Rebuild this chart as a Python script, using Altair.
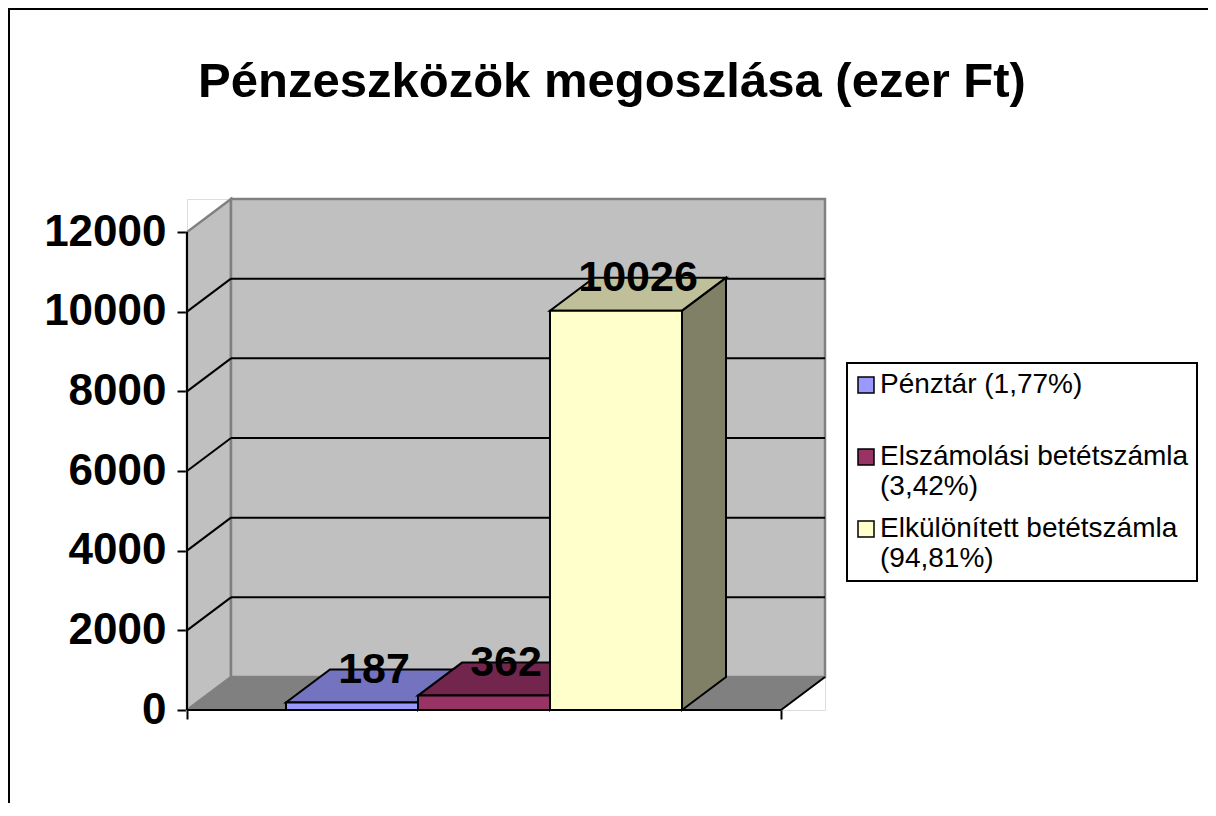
import altair as alt
import pandas as pd

# ---------------- data ----------------
categories = [
    "Pénztár (1,77%)\n ",
    "Elszámolási betétszámla\n(3,42%)",
    "Elkülönített betétszámla\n(94,81%)",
]
values = [187, 362, 10026]
front_colors = ["#9999FF", "#993366", "#FFFFCC"]
top_colors = ["#7373BF", "#73264D", "#BFBF99"]
side_colors = ["#5C5C99", "#4D1A33", "#808066"]
y_ticks = [0, 2000, 4000, 6000, 8000, 10000, 12000]
title_text = "Pénzeszközök megoszlása (ezer Ft)"

# ---------------- geometry (3D look) ----------------
FONT = "Liberation Sans, Arial, sans-serif"
W_FRONT, H_FRONT = 594, 478          # front plane in px
DEPTH_PX_X, DEPTH_PX_Y = 44, 33      # 3D depth offset in px
Y_MAX = y_ticks[-1]
DX = DEPTH_PX_X / W_FRONT            # depth in x units (front plane = 1)
DY = DEPTH_PX_Y / (H_FRONT / Y_MAX)  # depth in value units
W, H = W_FRONT + DEPTH_PX_X, H_FRONT + DEPTH_PX_Y

n = len(values)
bw = 1.0 / (n + 1.5)                 # gap width 150 %
start = 0.75 * bw

XS = alt.Scale(domain=[0, 1 + DX], nice=False, zero=False)
YS = alt.Scale(domain=[0, Y_MAX + DY], nice=False, zero=False)
x_axis = alt.Axis(values=[0, 1], labels=False, tickSize=9, tickWidth=2,
                  tickColor="black", domain=False, grid=False, title=None)
y_axis = alt.Axis(values=y_ticks, format="d", labelFont=FONT, labelFontSize=44,
                  labelFontWeight="bold", labelColor="black", labelPadding=11,
                  tickSize=10, tickWidth=2, tickColor="black", domain=False,
                  grid=False, title=None)


def X(f):
    return alt.X(f, type="quantitative", scale=XS, axis=x_axis, title=None)


def Y(f):
    return alt.Y(f, type="quantitative", scale=YS, axis=y_axis, title=None, stack=None)


# walls
floor = pd.DataFrame({"x": [0, DX, 1, 1 + DX], "y": [0, 0, 0, DY], "y2": [0, DY, DY, DY]})
left_wall = pd.DataFrame({"x": [0, DX], "y": [0, DY], "y2": [Y_MAX, Y_MAX + DY]})
back_wall = pd.DataFrame({"x": [DX], "x2": [1 + DX], "y": [DY], "y2": [Y_MAX + DY]})

grid_rows = []
for v in y_ticks[1:-1]:
    grid_rows.append({"x": DX, "x2": 1 + DX, "y": v + DY, "y2": v + DY})
    grid_rows.append({"x": 0, "x2": DX, "y": v, "y2": v + DY})
grid = pd.DataFrame(grid_rows)

front_lines = pd.DataFrame({
    "x": [0, 0, 1], "x2": [0, 1, 1 + DX], "y": [0, 0, 0], "y2": [Y_MAX, 0, DY]})

front_rows, top_rows, side_rows, label_rows = [], [], [], []
for i, (c, v) in enumerate(zip(categories, values)):
    x0 = start + i * bw
    x1 = x0 + bw
    front_rows.append({"cat": c, "x": x0, "x2": x1, "y": 0, "y2": v})
    for x, ya, yb in [(x0, v, v), (x0 + DX, v, v + DY), (x1, v, v + DY), (x1 + DX, v + DY, v + DY)]:
        top_rows.append({"bar": i, "x": x, "y": ya, "y2": yb, "fc": top_colors[i]})
    for x, ya, yb in [(x1, 0, v), (x1 + DX, DY, v + DY)]:
        side_rows.append({"bar": i, "x": x, "y": ya, "y2": yb, "fc": side_colors[i]})
    label_rows.append({"x": (x0 + x1) / 2 + DX / 2, "y": v + DY, "v": v})

front = pd.DataFrame(front_rows)
tops = pd.DataFrame(top_rows)
sides = pd.DataFrame(side_rows)
labels = pd.DataFrame(label_rows)

# ---------------- layers ----------------
floor_l = alt.Chart(floor).mark_area(orient="vertical", color="#808080", opacity=1).encode(
    x=X("x"), y=Y("y"), y2=alt.Y2("y2"))
left_l = alt.Chart(left_wall).mark_area(orient="vertical", fill="#C0C0C0", stroke="#808080",
                                        strokeWidth=2.5, opacity=1).encode(
    x=X("x"), y=Y("y"), y2=alt.Y2("y2"))
back_l = alt.Chart(back_wall).mark_rect(fill="#C0C0C0", stroke="#808080", strokeWidth=2.5).encode(
    x=X("x"), x2=alt.X2("x2"), y=Y("y"), y2=alt.Y2("y2"))
grid_l = alt.Chart(grid).mark_rule(color="black", strokeWidth=2).encode(
    x=X("x"), x2=alt.X2("x2"), y=Y("y"), y2=alt.Y2("y2"))
fl_l = alt.Chart(front_lines).mark_rule(color="black", strokeWidth=2).encode(
    x=X("x"), x2=alt.X2("x2"), y=Y("y"), y2=alt.Y2("y2"))

side_l = alt.Chart(sides).mark_area(orient="vertical", stroke="black", strokeWidth=2, opacity=1).encode(
    x=X("x"), y=Y("y"), y2=alt.Y2("y2"),
    fill=alt.Fill("fc:N", scale=None), detail="bar:N")
top_l = alt.Chart(tops).mark_area(orient="vertical", stroke="black", strokeWidth=2, opacity=1).encode(
    x=X("x"), y=Y("y"), y2=alt.Y2("y2"),
    fill=alt.Fill("fc:N", scale=None), detail="bar:N")
front_l = alt.Chart(front).mark_rect(stroke="black", strokeWidth=2, opacity=1).encode(
    x=X("x"), x2=alt.X2("x2"), y=Y("y"), y2=alt.Y2("y2"),
    color=alt.Color("cat:N", scale=alt.Scale(domain=categories, range=front_colors),
                    legend=alt.Legend(
                        title=None, orient="none", legendX=660, legendY=164,
                        strokeColor="black", fillColor="white",
                        padding=8, labelFont=FONT, labelFontSize=28, labelColor="black",
                        labelLimit=500, labelOffset=0, rowPadding=14,
                        symbolType="square", symbolSize=256, symbolOffset=-3,
                        symbolStrokeColor="black", symbolStrokeWidth=1.5,
                        labelExpr="split(datum.label, '\\n')")))

label_l = alt.Chart(labels).mark_text(font=FONT, fontSize=43, fontWeight="bold", color="black",
                                      align="center", baseline="middle").encode(
    x=X("x"), y=Y("y"), text=alt.Text("v:Q", format="d"))

title_l = alt.Chart(pd.DataFrame({"t": [title_text]})).mark_text(
    font=FONT, fontSize=49, fontWeight="bold", color="black", align="center",
    baseline="middle").encode(text="t:N", x=alt.value(425), y=alt.value(-117))

border_left = alt.Chart(pd.DataFrame({"a": [0]})).mark_rule(color="black", strokeWidth=2).encode(
    x=alt.value(-178), y=alt.value(-191), y2=alt.value(604))
border_top = alt.Chart(pd.DataFrame({"a": [0]})).mark_rule(color="black", strokeWidth=2).encode(
    x=alt.value(-179), x2=alt.value(1021), y=alt.value(-190))

chart = alt.layer(
    floor_l, left_l, back_l, grid_l, fl_l, side_l, top_l, front_l, label_l,
    title_l, border_left, border_top
).properties(
    width=W, height=H,
    autosize=alt.AutoSizeParams(type="none"),
    padding={"left": 179, "top": 191, "right": 383, "bottom": 93},
).configure_view(stroke=None).configure(background="white").configure_legend(strokeWidth=2)

chart.save("out.html", embed_options={"renderer": "svg", "actions": False})
